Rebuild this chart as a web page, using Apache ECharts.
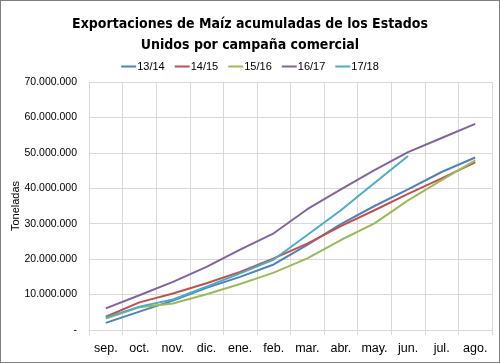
<!DOCTYPE html>
<html>
<head>
<meta charset="utf-8">
<script src="https://cdn.jsdelivr.net/npm/echarts@6/dist/echarts.min.js"></script>
<style>
html,body{margin:0;padding:0;background:#fff;}
#c{position:absolute;left:0;top:0;width:498px;height:361px;border:1px solid #7f7f7f;}
</style>
</head>
<body>
<div id="c"></div>
<script>
var categories = ['sep.','oct.','nov.','dic.','ene.','feb.','mar.','abr.','may.','jun.','jul.','ago.'];
var s1314 = [2.0e6, 5.2e6, 8.3e6, 11.9e6, 15.0e6, 18.5e6, 24.0e6, 29.9e6, 35.0e6, 39.7e6, 44.6e6, 48.7e6];
var s1415 = [3.75e6, 7.8e6, 10.3e6, 13.2e6, 16.4e6, 20.2e6, 24.4e6, 29.3e6, 33.8e6, 38.4e6, 42.8e6, 47.3e6];
var s1516 = [3.2e6, 6.4e6, 7.5e6, 10.1e6, 13.0e6, 16.2e6, 20.2e6, 25.4e6, 30.1e6, 36.6e6, 42.3e6, 47.9e6];
var s1617 = [6.1e6, 9.8e6, 13.6e6, 17.8e6, 22.7e6, 27.3e6, 34.1e6, 39.7e6, 45.1e6, 50.2e6, 54.2e6, 58.2e6];
var s1718 = [3.5e6, 6.6e6, 8.6e6, 12.2e6, 16.0e6, 19.9e6, 26.8e6, 33.8e6, 41.5e6, 49.1e6];
var seriesNames = ['13/14','14/15','15/16','16/17','17/18'];
var colors = ['#4F81BD','#C0504D','#9BBB59','#8064A2','#4BACC6'];
var titleLines = ['Exportaciones de Maíz acumuladas de los Estados', 'Unidos por campaña comercial'];
var yName = 'Toneladas';

function fmt(v){
  if (v === 0) return '-';
  return String(Math.round(v)).replace(/\B(?=(\d{3})+(?!\d))/g, '.');
}

var chart = echarts.init(document.getElementById('c'), null, {renderer:'canvas'});
var data = [s1314, s1415, s1516, s1617, s1718];
chart.setOption({
  animation:false,
  color: colors,
  title: {
    text: titleLines.join('\n'),
    left: 'center', top: 8,
    textStyle: {fontFamily:'DejaVu Sans Condensed', fontWeight:'bold', fontSize:14, lineHeight:21, color:'#000'}
  },
  legend: {
    top: 55, left: 'center',
    itemWidth: 15, itemHeight: 2, itemGap: 10,
    icon: 'rect',
    textStyle: {fontFamily:'Liberation Sans, sans-serif', fontSize:11, color:'#000', padding:[0,0,0,-4]},
    data: seriesNames
  },
  grid: {left: 88, right: 7, top: 81, bottom: 32, containLabel:false, outerBoundsMode:'none'},
  xAxis: {
    type:'category', data: categories, boundaryGap: true,
    axisLine:{lineStyle:{color:'#d9d9d9'}},
    axisTick:{show:true, length:5, lineStyle:{color:'#d9d9d9'}},
    splitLine:{show:true, lineStyle:{color:'#d9d9d9'}},
    axisLabel:{interval:0, color:'#000', fontFamily:'Liberation Sans, sans-serif', fontSize:12.5, margin:12}
  },
  yAxis: {
    type:'value', min:0, max:70000000, interval:10000000,
    name: yName, nameLocation:'middle', nameGap:68, nameMoveOverlap:false,
    nameTextStyle:{color:'#000', fontFamily:'Liberation Sans, sans-serif', fontSize:11},
    axisLine:{show:true, lineStyle:{color:'#d9d9d9'}},
    axisTick:{show:false},
    splitLine:{show:true, lineStyle:{color:'#d9d9d9'}},
    axisLabel:{color:'#000', fontFamily:'Liberation Sans, sans-serif', fontSize:10.5, margin:12, formatter: fmt}
  },
  series: seriesNames.map(function(n, i){
    return {name:n, type:'line', data:data[i], symbol:'none', lineStyle:{width:2}, emphasis:{disabled:true}};
  })
});
</script>
</body>
</html>
